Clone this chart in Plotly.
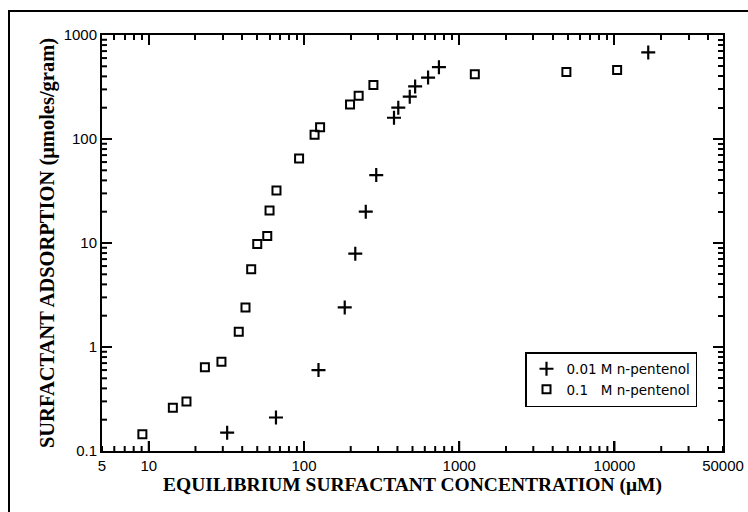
import plotly.graph_objects as go
import math

# ---- data ----
plus_label = "0.01\u00a0M n-pentenol"
plus_x = [32, 66, 124, 183, 214, 250, 292, 380, 405, 480, 520, 630, 740, 16500]
plus_y = [0.15, 0.21, 0.60, 2.4, 7.9, 20, 45, 160, 200, 255, 320, 390, 490, 680]

sq_label = "0.1\u00a0\u00a0\u00a0M n-pentenol"
sq_x = [9.1, 14.3, 17.5, 23, 29.4, 38, 42, 45.7, 50, 58, 60, 66.5, 93, 117, 127,
        198, 225, 280, 1260, 4900, 10400]
sq_y = [0.145, 0.26, 0.30, 0.64, 0.72, 1.4, 2.4, 5.6, 9.8, 11.7, 20.5, 32, 65,
        110, 130, 215, 260, 330, 420, 440, 460]

x_ticks = [5, 10, 100, 1000, 10000, 50000]
x_ticktext = ["5", "10", "100", "1000", "10000", "50000"]
y_ticks = [0.1, 1, 10, 100, 1000]
y_ticktext = ["0.1", "1", "10", "100", "1000"]

x_title = "EQUILIBRIUM SURFACTANT CONCENTRATION (\u03bcM)"
y_title = "SURFACTANT ADSORPTION (\u03bcmoles/gram)"

# ---- layout constants ----
W, H = 748, 512
L, R, T, B = 102, 25, 35, 61
pw, ph = W - L - R, H - T - B
X_RANGE = [math.log10(5), math.log10(50000)]
Y_RANGE = [-1, 3]
MAJ_LEN, MIN_LEN = 10, 5

x_major = [v for v in x_ticks if v not in (5, 50000)]
x_minor = [m * 10 ** e for e in range(0, 5) for m in range(1, 10)
           if 5 <= m * 10 ** e <= 50000 and m * 10 ** e not in x_major]
y_major = [v for v in y_ticks if v not in (0.1, 1000)]
y_minor = [m * 10 ** e for e in range(-1, 3) for m in range(2, 10)]

fig = go.Figure()
fig.add_trace(go.Scatter(
    x=plus_x, y=plus_y, mode="markers", name=plus_label,
    marker=dict(symbol="cross-thin", size=10, color="black",
                line=dict(width=2.2, color="black"))))
fig.add_trace(go.Scatter(
    x=sq_x, y=sq_y, mode="markers", name=sq_label,
    marker=dict(symbol="square-open", size=8, color="black",
                line=dict(width=2, color="black"))))
# empty trace so the top / right tick axes are drawn
fig.add_trace(go.Scatter(x=[], y=[], xaxis="x2", yaxis="y2", showlegend=False,
                         hoverinfo="skip"))

tickfont = dict(family="Liberation Sans, Arial, sans-serif", size=15, color="black")
xtitlefont = dict(family="Liberation Serif, Times New Roman, serif", size=19.5,
                  color="black", weight="bold")
ytitlefont = dict(family="Liberation Serif, Times New Roman, serif", size=20.5,
                  color="black", weight="bold")


def tick_axis(rng, major, minor):
    return dict(
        type="log", range=rng, tickmode="array", tickvals=major,
        ticks="inside", ticklen=MAJ_LEN, tickwidth=2, tickcolor="black",
        minor=dict(tickmode="array", tickvals=minor, ticks="inside",
                   ticklen=MIN_LEN, tickwidth=2, tickcolor="black", showgrid=False),
        showline=True, linecolor="black", linewidth=2, mirror=False,
        showgrid=False, zeroline=False, showticklabels=False,
    )


fig.update_layout(
    xaxis=dict(type="log", range=X_RANGE, tickmode="array", tickvals=x_ticks,
               ticktext=x_ticktext, ticks="inside", ticklen=MAJ_LEN, tickwidth=2,
               tickcolor="black", showline=True, linecolor="black",
               linewidth=2, showgrid=False, zeroline=False, tickfont=tickfont,
               title=dict(text=x_title, font=xtitlefont, standoff=4)),
    yaxis=dict(type="log", range=Y_RANGE, tickmode="array", tickvals=y_ticks,
               ticktext=y_ticktext, ticks="inside", ticklen=MAJ_LEN, tickwidth=2,
               tickcolor="black", showline=True, linecolor="black",
               linewidth=2, showgrid=False, zeroline=False, tickfont=tickfont,
               title=dict(text=y_title, font=ytitlefont, standoff=3)),
    xaxis2=dict(**tick_axis(X_RANGE, x_ticks, x_minor), overlaying="x",
                side="top", anchor="y2"),
    yaxis2=dict(**tick_axis(Y_RANGE, y_ticks, y_minor), overlaying="y",
                side="right", anchor="x2"),
)


# inward ticks along the bottom and left edges, placed from the tick value lists
def xfrac(v):
    return (math.log10(v) - X_RANGE[0]) / (X_RANGE[1] - X_RANGE[0])


def yfrac(v):
    return (math.log10(v) - Y_RANGE[0]) / (Y_RANGE[1] - Y_RANGE[0])


tick_line = dict(color="black", width=2)
shapes = []
for vals, ln in ((x_major, MAJ_LEN), (x_minor, MIN_LEN)):
    for v in vals:
        shapes.append(dict(type="line", xref="paper", yref="paper",
                           x0=xfrac(v), x1=xfrac(v), y0=0, y1=ln / ph,
                           line=tick_line, layer="above"))
for vals, ln in ((y_major, MAJ_LEN), (y_minor, MIN_LEN)):
    for v in vals:
        shapes.append(dict(type="line", xref="paper", yref="paper",
                           x0=0, x1=ln / pw, y0=yfrac(v), y1=yfrac(v),
                           line=tick_line, layer="above"))
# outer frame of the scanned figure (extends beyond the right/bottom edge)
shapes.append(dict(type="rect", xref="paper", yref="paper",
                   x0=(9 - L) / pw, x1=(760 - L) / pw,
                   y0=(H - B - 530) / ph, y1=(H - B - 11) / ph,
                   line=dict(color="black", width=2), layer="above"))

fig.update_layout(
    shapes=shapes,
    width=W, height=H,
    margin=dict(l=L, r=R, t=T, b=B, autoexpand=False),
    paper_bgcolor="white", plot_bgcolor="white",
    showlegend=True,
    legend=dict(x=(525 - L) / pw, y=(H - B - 352) / ph, xanchor="left", yanchor="top",
                bordercolor="black", borderwidth=1.5, bgcolor="white",
                font=dict(family="DejaVu Sans, sans-serif", size=13.5, color="black"),
                tracegroupgap=0, itemwidth=30),
)

fig.write_html("out.html")
